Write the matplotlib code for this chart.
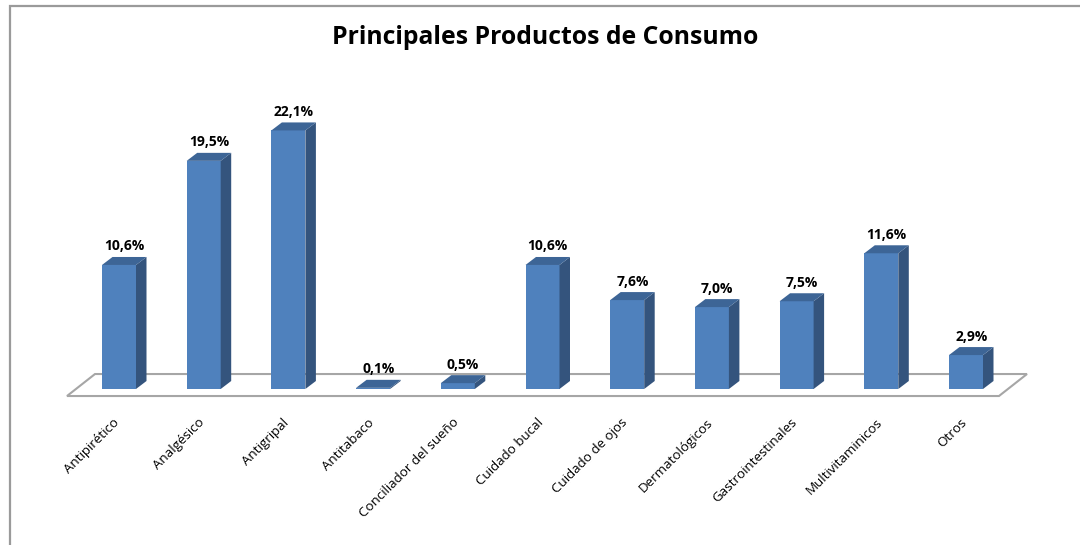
import matplotlib
matplotlib.use("Agg")
import matplotlib.pyplot as plt
from matplotlib.patches import Polygon, Rectangle

categories = ["Antipirético", "Analgésico", "Antigripal", "Antitabaco",
              "Conciliador del sueño", "Cuidado bucal", "Cuidado de ojos",
              "Dermatológicos", "Gastrointestinales", "Multivitaminicos", "Otros"]
values = [10.6, 19.5, 22.1, 0.1, 0.5, 10.6, 7.6, 7.0, 7.5, 11.6, 2.9]
value_labels = ["10,6%", "19,5%", "22,1%", "0,1%", "0,5%", "10,6%",
                "7,6%", "7,0%", "7,5%", "11,6%", "2,9%"]
title = "Principales Productos de Consumo"

FRONT = "#4F81BD"
SIDE = "#34547D"
TOP = "#3D6596"
FONT = ["Open Sans", "DejaVu Sans"]

W, H = 1080, 545
fig = plt.figure(figsize=(W / 100, H / 100), dpi=100)
ax = fig.add_axes([0, 0, 1, 1])

# pixel layout of the plot: category spacing and value scale
x0_px, step_px = 119.0, 84.7
y0_px, unit_px = 389.0, 11.7
ax.set_xlim((0 - x0_px) / step_px, (W - x0_px) / step_px)
ax.set_ylim(-(H - y0_px) / unit_px, y0_px / unit_px)
ax.axis("off")

bar_w = 34 / step_px
dx = 10.5 / step_px
dy = 8.0 / unit_px

# floor of the 3-D plot area
n = len(categories)
fx0 = -0.614
floor_front, floor_back = -0.60, 1.28
floor_dx = 28 / step_px
floor = Polygon([(fx0, floor_front), (fx0 + floor_dx, floor_back),
                 (10.72, floor_back), (10.72 - floor_dx, floor_front)],
                closed=True, facecolor="white", edgecolor="#A6A6A6", lw=1.5, zorder=1)
ax.add_patch(floor)

for i, v in enumerate(values):
    left = i - bar_w / 2
    right = i + bar_w / 2
    ax.bar(i, v, width=bar_w, bottom=0, color=FRONT, edgecolor="none", zorder=3)
    side = Polygon([(right, 0), (right + dx, dy), (right + dx, v + dy), (right, v)],
                   closed=True, facecolor=SIDE, edgecolor="none", zorder=3)
    top = Polygon([(left, v), (left + dx, v + dy), (right + dx, v + dy), (right, v)],
                  closed=True, facecolor=TOP, edgecolor="none", zorder=3)
    ax.add_patch(side)
    ax.add_patch(top)
    ax.text(i + dx / 2, v + dy + 0.3, value_labels[i], ha="center", va="bottom",
            fontsize=10, fontweight="bold", family=FONT, color="black", zorder=4)
    ax.text(i - 0.07, -2.3, categories[i], rotation=45, rotation_mode="anchor",
            ha="right", va="top", fontsize=9.6, family=FONT, color="black")

fig.text(545 / W, 1 - 38 / H, title, ha="center", va="center",
         fontsize=17.8, fontweight="bold", family=FONT)

# chart-area border (runs off the right and bottom edges)
fig.patches.append(Rectangle((10 / W, -0.1), 1.2, 1 - 6 / H + 0.1,
                             transform=fig.transFigure, fill=False,
                             edgecolor="#9A9A9A", lw=1.6))

fig.savefig("out.png", dpi=100, facecolor="white")
